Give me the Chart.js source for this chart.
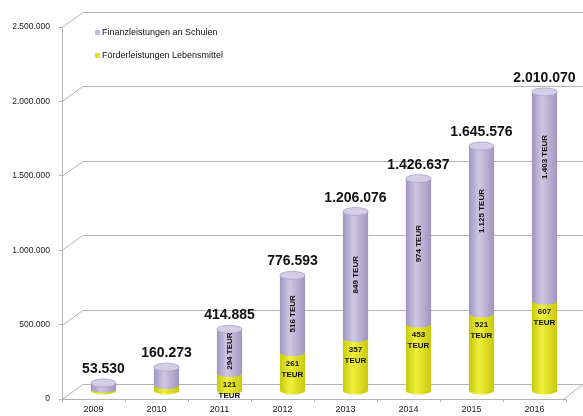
<!DOCTYPE html>
<html>
<head>
<meta charset="utf-8">
<script src="https://cdn.jsdelivr.net/npm/chart.js@4"></script>
<style>
  body { margin: 0; background: #fff; }
</style>
</head>
<body>
<canvas id="chart" width="583" height="416"></canvas>
<script>
// values
const years = ['2009', '2010', '2011', '2012', '2013', '2014', '2015', '2016'];
const totals = [53530, 160273, 414885, 776593, 1206076, 1426637, 1645576, 2010070];
const lebensmittel = [15000, 40000, 121000, 261000, 357000, 453000, 521000, 607000];
const schulen = [38530, 120273, 294000, 516000, 849000, 974000, 1125000, 1403000];
const yMax = 2500000, yStep = 500000;

const FONT = '"Liberation Sans", Arial, sans-serif';
const DX = 10, DY = -8, RY = 4;   // 3d depth offset of the cylinders

function fmt(n) {
    return String(Math.round(n)).replace(/\B(?=(\d{3})+(?!\d))/g, '.');
}

// back wall, left wall and floor
const wallPlugin = {
    id: 'wall',
    beforeDatasetsDraw(chart) {
        const {ctx, chartArea: a, scales: {y}} = chart;
        ctx.save();
        ctx.strokeStyle = '#b3b3b3';
        ctx.lineWidth = 1;
        for (let t of y.ticks) {
            let py = Math.round(y.getPixelForValue(t.value)) + 0.5;
            ctx.beginPath();
            ctx.moveTo(a.left, py);
            ctx.lineTo(a.left + 21, py - 15);
            ctx.lineTo(chart.width, py - 15);
            ctx.stroke();
        }
        ctx.beginPath();
        ctx.moveTo(a.right - 3, a.bottom + 0.5);
        ctx.lineTo(a.right + 17, a.bottom - 14.5);
        ctx.stroke();
        ctx.restore();
    }
};

function segment(ctx, cx, rx, top, bottom, dark, light) {
    const g = ctx.createLinearGradient(cx - rx, 0, cx + rx, 0);
    g.addColorStop(0, dark);
    g.addColorStop(0.4, light);
    g.addColorStop(1, dark);
    ctx.fillStyle = g;
    ctx.beginPath();
    ctx.moveTo(cx - rx, top);
    ctx.lineTo(cx - rx, bottom);
    ctx.ellipse(cx, bottom, rx, RY, 0, Math.PI, 0, true);
    ctx.lineTo(cx + rx, top);
    ctx.closePath();
    ctx.fill();
}

const cylinderPlugin = {
    id: 'cylinders',
    afterDatasetsDraw(chart) {
        const ctx = chart.ctx;
        const yel = chart.getDatasetMeta(0).data;
        const pur = chart.getDatasetMeta(1).data;
        ctx.save();
        for (let i = 0; i < years.length; i++) {
            let e0 = yel[i], e1 = pur[i];
            let cx = e0.x + DX, rx = e0.width / 2;
            let yBottom = e0.base + DY, yMid = e0.y + DY, yTop = e1.y + DY;
            segment(ctx, cx, rx, yMid, yBottom, '#c8c80e', '#f0f03c');
            segment(ctx, cx, rx, yTop, yMid, '#9f95bf', '#cfc8e2');
            // top cap
            ctx.beginPath();
            ctx.ellipse(cx, yTop, rx, RY, 0, 0, Math.PI * 2);
            ctx.fillStyle = '#d3cde6';
            ctx.fill();
            ctx.strokeStyle = '#aaa1c8';
            ctx.lineWidth = 0.8;
            ctx.stroke();

            // total above
            ctx.fillStyle = '#111';
            ctx.textAlign = 'center';
            ctx.textBaseline = 'alphabetic';
            ctx.font = 'bold 14px ' + FONT;
            ctx.fillText(fmt(totals[i]), cx, yTop - RY - 6);

            if (i < 2) continue;
            // yellow label
            ctx.font = 'bold 8px ' + FONT;
            ctx.textBaseline = 'middle';
            let ly = yMid + 17;
            ctx.fillText(fmt(lebensmittel[i] / 1000), cx, ly - 5.5);
            ctx.fillText('TEUR', cx, ly + 5.5);
            // purple label, vertical
            let py = yTop + Math.min((yMid - yTop) / 2, 65);
            ctx.save();
            ctx.translate(cx, py);
            ctx.rotate(-Math.PI / 2);
            ctx.fillText(fmt(schulen[i] / 1000) + ' TEUR', 0, 0);
            ctx.restore();
        }
        ctx.restore();
    }
};

const legendPlugin = {
    id: 'cornerLegend',
    afterDraw(chart) {
        const ctx = chart.ctx;
        const sets = chart.data.datasets.slice().reverse();
        ctx.save();
        ctx.font = '9px ' + FONT;
        ctx.textBaseline = 'middle';
        ctx.textAlign = 'left';
        sets.forEach((ds, k) => {
            let y = 33 + k * 23;
            ctx.fillStyle = ds.legendColor;
            ctx.fillRect(95, y - 3, 5, 5);
            ctx.fillStyle = '#111';
            ctx.fillText(ds.label, 102, y);
        });
        ctx.restore();
    }
};

new Chart(document.getElementById('chart'), {
    type: 'bar',
    data: {
        labels: years,
        datasets: [
            {label: 'Förderleistungen Lebensmittel', data: lebensmittel,
             backgroundColor: 'rgba(0,0,0,0)', legendColor: '#e3e31a'},
            {label: 'Finanzleistungen an Schulen', data: schulen,
             backgroundColor: 'rgba(0,0,0,0)', legendColor: '#c6bedd'}
        ]
    },
    options: {
        responsive: false,
        animation: false,
        layout: {padding: {top: 27, right: 17, left: 0, bottom: 0}},
        datasets: {bar: {barPercentage: 0.4, categoryPercentage: 1}},
        plugins: {legend: {display: false}, tooltip: {enabled: false}},
        scales: {
            x: {
                stacked: true,
                afterFit: (s) => { s.height = 17; },
                grid: {drawOnChartArea: false, tickLength: 3, color: '#b3b3b3'},
                border: {color: '#b3b3b3'},
                ticks: {color: '#222', font: {family: FONT, size: 9}, padding: 2}
            },
            y: {
                stacked: true,
                min: 0, max: yMax,
                afterFit: (s) => { s.width = 62; },
                grid: {drawOnChartArea: false, tickLength: 3, color: '#b3b3b3'},
                border: {color: '#b3b3b3'},
                ticks: {stepSize: yStep, color: '#222', padding: 9,
                        font: {family: FONT, size: 8.5},
                        callback: (v) => fmt(v)}
            }
        }
    },
    plugins: [wallPlugin, cylinderPlugin, legendPlugin]
});
</script>
</body>
</html>
